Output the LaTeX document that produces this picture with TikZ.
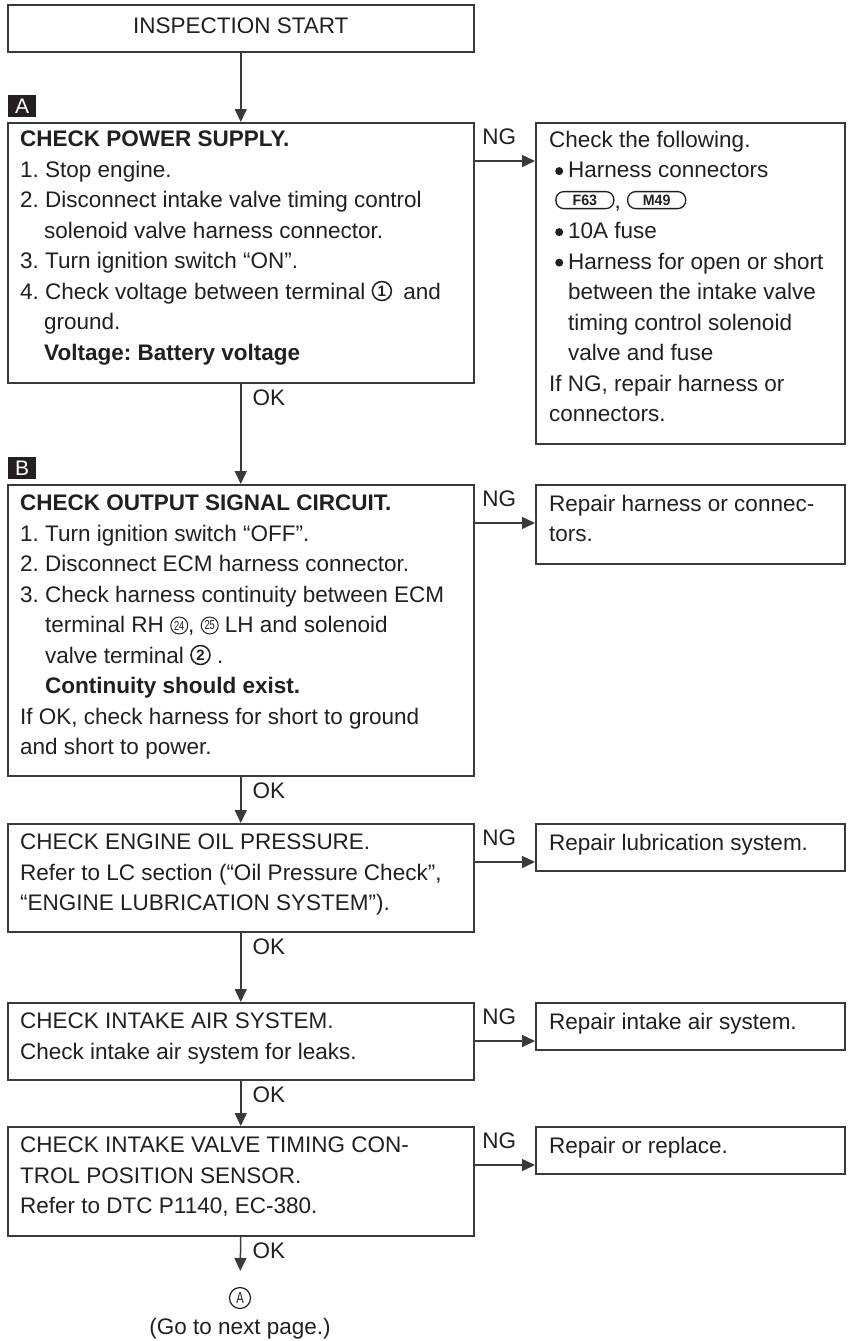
\documentclass[tikz,border=0pt]{standalone}
\usepackage{fontspec}
\usepackage{graphicx}
\setmainfont{Liberation Sans}
\usetikzlibrary{arrows.meta,calc}
\definecolor{ink}{HTML}{231F20}
\definecolor{edge}{HTML}{3A3A3A}

\newcommand\cnumB[1]{\tikz[x=1pt,y=1pt,baseline=-8pt]\node[circle,draw=ink,line width=1.5pt,minimum size=19pt,inner sep=0pt,anchor=center,font=\fontsize{15}{15}\selectfont\bfseries,text=ink]{#1};}
\newcommand\cnumS[1]{\tikz[x=1pt,y=1pt,baseline=-7pt]\node[circle,draw=ink,line width=1pt,minimum size=17pt,inner sep=0pt,anchor=center,font=\fontsize{13}{13}\selectfont,text=ink]{\scalebox{0.72}[1]{#1}};}
\newcommand\conn[1]{\tikz[x=1pt,y=1pt,baseline=-8pt]\node[draw=ink,line width=1.3pt,rounded corners=8pt,minimum width=58pt,minimum height=17pt,inner sep=0pt,anchor=center,font=\fontsize{15}{15}\selectfont\bfseries,text=ink]{\scalebox{0.95}[1]{#1}};}
\newcommand\bul{\hspace*{6pt}\tikz[x=1pt,y=1pt,baseline=-6.5pt]\fill[ink] (0,0) circle (4pt);\hspace*{5pt}}

\tikzset{
  box/.style={draw=edge,line width=1.5pt,inner sep=0pt,anchor=north west},
  txt/.style={anchor=north west,inner sep=0pt,align=left,text=ink,font=\fontsize{22.5}{30.5}\selectfont},
  arr/.style={draw=edge,line width=1.5pt,-{Triangle[length=13pt,width=12pt]}},
  lab/.style={inner sep=0pt,text=ink,font=\fontsize{22.5}{30.5}\selectfont},
  ok/.style={lab,pos=0,anchor=base west,xshift=11pt,yshift=-22pt},
  ng/.style={lab,pos=0.41,anchor=base,yshift=17pt},
  tag/.style={fill=ink,text=white,minimum width=28pt,minimum height=22pt,inner sep=0pt,anchor=south west,font=\fontsize{21}{21}\selectfont},
}

\begin{document}
\frenchspacing
\begin{tikzpicture}[x=1pt,y=-1pt]
\fill[white] (0,0) rectangle (848,1341);
\useasboundingbox (0,0) rectangle (848,1341);

% start
\node[box,minimum width=466pt,minimum height=47pt,text=ink,font=\fontsize{22.5}{30.5}\selectfont,text height=16pt,text depth=6pt] (S) at (7,4) {INSPECTION START};

% box A
\node[box,minimum width=466pt,minimum height=260pt] (A) at (7,122) {};
\node[tag] (tagA) at (8,117) {A};
\node[txt] (tA) at (20,130.6) {\textbf{CHECK POWER SUPPLY.}\\
1. Stop engine.\\
2. Disconnect intake valve timing control\\
\hspace*{24pt}solenoid valve harness connector.\\
3. Turn ignition switch “ON”.\\
4. Check voltage between terminal \cnumB{1}\hspace{5pt} and\\
\hspace*{24pt}ground.\\
\hspace*{24pt}\textbf{Voltage: Battery voltage}};

\node[box,minimum width=309pt,minimum height=321pt] (RA) at (535,122) {};
\node[txt] (tRA) at (549,130.6) {Check the following.\\
\bul Harness connectors\\
\hspace*{6pt}\conn{F63}, \conn{M49}\\
\bul 10A fuse\\
\bul Harness for open or short\\
\hspace*{19pt}between the intake valve\\
\hspace*{19pt}timing control solenoid\\
\hspace*{19pt}valve and fuse\\
If NG, repair harness or\\
connectors.};

% box B
\node[box,minimum width=466pt,minimum height=291pt] (B) at (7,484) {};
\node[tag] (tagB) at (8,479) {B};
\node[txt] (tB) at (20,494.6) {\textbf{CHECK OUTPUT SIGNAL CIRCUIT.}\\
1. Turn ignition switch “OFF”.\\
2. Disconnect ECM harness connector.\\
3. Check harness continuity between ECM\\
\hspace*{25pt}terminal RH \cnumS{24}, \cnumS{25} LH and solenoid\\
\hspace*{25pt}valve terminal \cnumB{2} .\\
\hspace*{25pt}\textbf{Continuity should exist.}\\
If OK, check harness for short to ground\\
and short to power.};

\node[box,minimum width=309pt,minimum height=79pt] (RB) at (535,484) {};
\node[txt] (tRB) at (549,494.6) {Repair harness or connec-\\tors.};

% box C
\node[box,minimum width=466pt,minimum height=108pt] (C) at (7,823) {};
\node[txt] (tC) at (20,833.6) {CHECK ENGINE OIL PRESSURE.\\
Refer to LC section (“Oil Pressure Check”,\\
“ENGINE LUBRICATION SYSTEM”).};
\node[box,minimum width=309pt,minimum height=47pt] (RC) at (535,823) {};
\node[txt] (tRC) at (549,833.6) {Repair lubrication system.};

% box D
\node[box,minimum width=466pt,minimum height=77pt] (D) at (7,1002) {};
\node[txt] (tD) at (20,1012.6) {CHECK INTAKE AIR SYSTEM.\\
Check intake air system for leaks.};
\node[box,minimum width=309pt,minimum height=47pt] (RD) at (535,1002) {};
\node[txt] (tRD) at (549,1012.6) {Repair intake air system.};

% box E
\node[box,minimum width=466pt,minimum height=109pt] (E) at (7,1126) {};
\node[txt] (tE) at (20,1136.6) {CHECK INTAKE VALVE TIMING CON-\\
TROL POSITION SENSOR.\\
Refer to DTC P1140, EC-380.};
\node[box,minimum width=309pt,minimum height=47pt] (RE) at (535,1126) {};
\node[txt] (tRE) at (549,1136.6) {Repair or replace.};

% end marker
\node[circle,draw=ink,line width=1.2pt,minimum size=21pt,inner sep=0pt,text=ink,font=\fontsize{16}{16}\selectfont] (cA) at (240,1298) {\scalebox{0.7}[1]{A}};
\node[lab,anchor=base] (go) at (240,1334) {(Go to next page.)};

% connectors
\draw[arr] (S.south) -- (A.north);
\draw[arr] (A.south) -- node[ok]{OK} (B.north);
\draw[arr] (B.south) -- node[ok]{OK} (C.north);
\draw[arr] (C.south) -- node[ok]{OK} (D.north);
\draw[arr] (D.south) -- node[ok]{OK} (E.north);
\draw[arr,shorten >=16pt] (E.south) -- node[ok]{OK} (cA.north);

\draw[arr] ([yshift=-39pt]A.north east) -- node[ng]{NG} ([yshift=-39pt]RA.north west);
\draw[arr] ([yshift=-39pt]B.north east) -- node[ng]{NG} ([yshift=-39pt]RB.north west);
\draw[arr] ([yshift=-39pt]C.north east) -- node[ng]{NG} ([yshift=-39pt]RC.north west);
\draw[arr] ([yshift=-39pt]D.north east) -- node[ng]{NG} ([yshift=-39pt]RD.north west);
\draw[arr] ([yshift=-39pt]E.north east) -- node[ng]{NG} ([yshift=-39pt]RE.north west);
\end{tikzpicture}
\end{document}
